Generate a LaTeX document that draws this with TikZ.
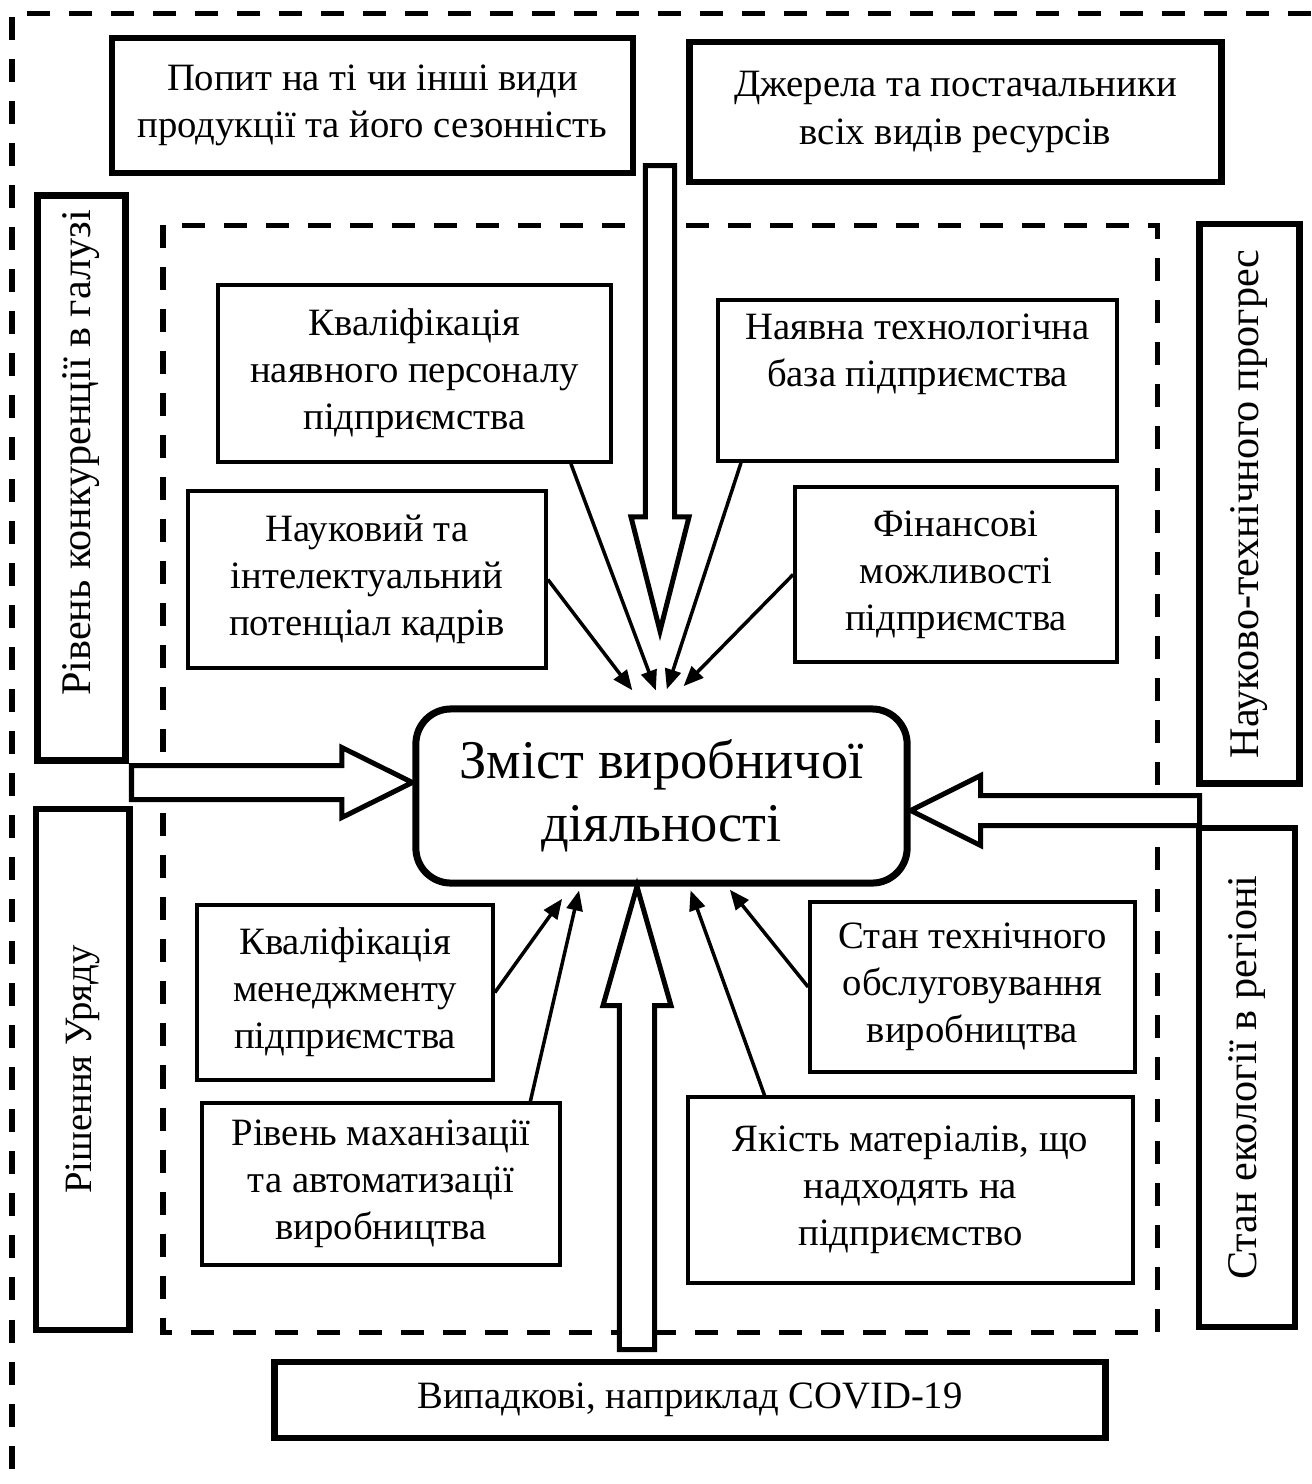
\documentclass[tikz,border=0pt]{standalone}
\usepackage{fontspec}
\setmainfont{Liberation Serif}
\usetikzlibrary{positioning,calc,arrows.meta}

\begin{document}
\begin{tikzpicture}[x=0.01cm,y=-0.01cm,
    box/.style={draw,line width=0.035cm,inner sep=0pt,align=center,font=\fontsize{11}{13.4}\selectfont},
    sidebox/.style={box,line width=0.065cm},
    vertbox/.style={sidebox,rotate=90,font=\fontsize{12}{14}\selectfont},
    dashframe/.style={line width=0.05cm,dash pattern=on 0.23cm off 0.19cm},
    feed/.style={line width=0.035cm,-{Triangle[length=0.2cm,width=0.16cm]}},
    hollow/.style n args={3}{line width=0.05cm,fill=white,to path={
        ($(\tikztotarget)!#3!(\tikztostart)$) coordinate (hb)
        ($(\tikztostart)!#1!90:(hb)$) -- ($(hb)!#1!-90:(\tikztostart)$)
        -- ($(hb)!#2!-90:(\tikztostart)$) -- (\tikztotarget)
        -- ($(hb)!#2!90:(\tikztostart)$) -- ($(hb)!#1!90:(\tikztostart)$)
        -- ($(\tikztostart)!#1!-90:(hb)$) -- cycle}}]
    \useasboundingbox (0,0) rectangle (1311,1484);
    \draw[dashframe] (1311,13) -- (12,13) -- (12,1484);
    \draw[dashframe] (163,225) rectangle (1157,1332);
    \node[sidebox,minimum width=5.21cm,minimum height=1.35cm] (popyt) at (372.5,105.5) {Попит на ті чи інші види\\продукції та його сезонність};
    \node[sidebox,minimum width=5.32cm,minimum height=1.40cm] (dzherela) at (955.5,112) {Джерела та постачальники\\всіх видів ресурсів};
    \node[vertbox,minimum width=5.645cm,minimum height=0.88cm] (konk) at (81.5,478) {\hspace*{0.5cm}Рівень конкуренції в галузі};
    \node[vertbox,font=\fontsize{11}{13.4}\selectfont,minimum width=5.21cm,minimum height=0.935cm] (uriad) at (82.75,1069.5) {Рішення Уряду};
    \node[vertbox,minimum width=5.595cm,minimum height=1.0cm] (progres) at (1249.5,503.75) {Науково-технічного прогрес};
    \node[vertbox,minimum width=4.99cm,minimum height=0.96cm] (ekol) at (1247,1077.5) {Стан екології в регіоні};
    \node[sidebox,minimum width=8.31cm,minimum height=0.755cm] (covid) at (690,1400) {Випадкові, наприклад COVID-19};
    \node[box,minimum width=3.93cm,minimum height=1.77cm] (kvalp) at (414.5,373.5) {Кваліфікація\\наявного персоналу\\підприємства};
    \node[box,minimum width=3.99cm,minimum height=1.61cm] (baza) at (917.5,380.5) {Наявна технологічна\\база підприємства\\\strut};
    \node[box,minimum width=3.58cm,minimum height=1.77cm] (nauk) at (367,579.5) {Науковий та\\інтелектуальний\\потенціал кадрів};
    \node[box,minimum width=3.22cm,minimum height=1.75cm] (fin) at (956,574.5) {Фінансові\\можливості\\підприємства};
    \node[box,line width=0.07cm,rounded corners=0.35cm,minimum width=4.91cm,minimum height=1.74cm,
        font=\fontsize{15.5}{18}\selectfont] (zmist) at (661.5,796) {Зміст виробничої\\діяльності};
    \node[box,minimum width=2.96cm,minimum height=1.75cm] (menedzh) at (345,992.5) {Кваліфікація\\менеджменту\\підприємства};
    \node[box,minimum width=3.25cm,minimum height=1.70cm] (tekhn) at (972.5,987) {Стан технічного\\обслуговування\\виробництва};
    \node[box,minimum width=3.58cm,minimum height=1.62cm] (mekh) at (381,1184) {Рівень маханізації\\та автоматизації\\виробництва};
    \node[box,minimum width=4.45cm,minimum height=1.86cm] (yakist) at (910.5,1190) {Якість матеріалів, що\\надходять на\\підприємство};
    \coordinate (topin) at (660,165.5);
    \coordinate (topout) at (660,631);
    \coordinate (leftin) at (131.5,782.5);
    \coordinate (rightin) at (1199.5,810.5);
    \coordinate (botin) at (637,1349.5);
    \draw[hollow={0.145cm}{0.29cm}{1.14cm}] (topin) to (topout);
    \draw[hollow={0.17cm}{0.35cm}{0.705cm}] (leftin) to (zmist.west |- leftin);
    \draw[hollow={0.15cm}{0.35cm}{0.70cm}] (rightin) to (zmist.east |- rightin);
    \draw[hollow={0.175cm}{0.34cm}{1.19cm}] (botin) to (zmist.south -| botin);
    \path[feed]
    (nauk.east) edge[shorten >=0.19cm] (zmist.101)
    (kvalp.-30) edge[shorten >=0.16cm] (zmist.north)
    (baza.205) edge[shorten >=0.17cm] (zmist.north)
    (fin.west) edge[shorten >=0.27cm] (zmist.88)
    (menedzh.east) edge[shorten >=0.15cm] (zmist.-135)
    (mekh.29) edge[shorten >=0.04cm] (zmist.-132)
    (yakist.147) edge[shorten >=0.04cm] (zmist.-73)
    (tekhn.west) edge[shorten >=0.04cm] (zmist.-54);
\end{tikzpicture}
\end{document}
